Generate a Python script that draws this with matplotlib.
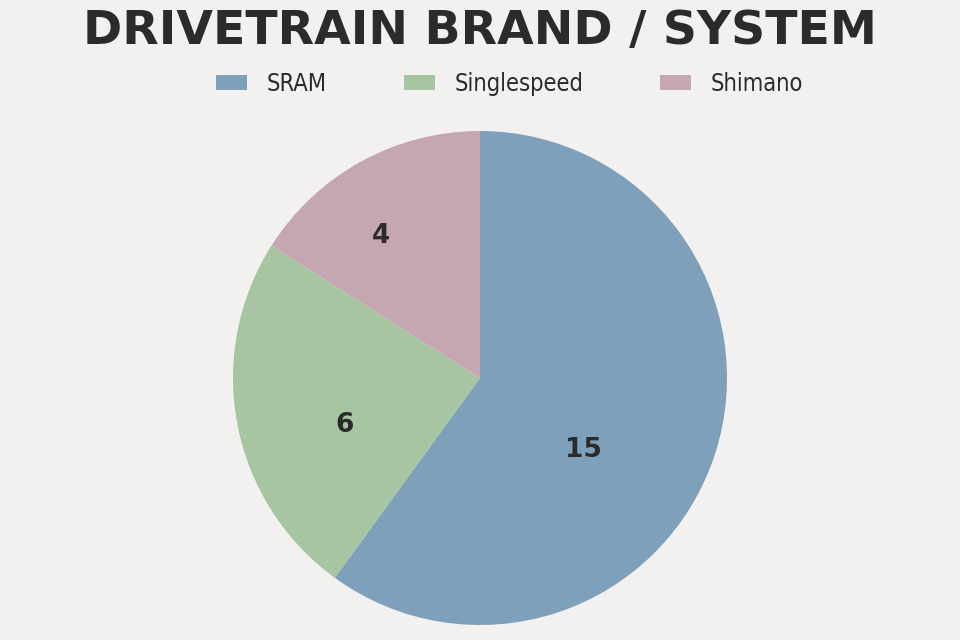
import numpy as np
import matplotlib.pyplot as plt
from matplotlib.patches import Patch

labels = ['SRAM', 'Singlespeed', 'Shimano']
counts = [15, 6, 4]
colors = ['#7fa0bb', '#a7c5a1', '#c5a7b1']
# where the value labels sit: angle (deg) and fraction of radius
label_angle = [-35, 199, 125]
label_rad = [0.51, 0.58, 0.70]

bg = '#f2f1ef'
ink = '#2b2b2b'

fig = plt.figure(figsize=(9.6, 6.4), dpi=100, facecolor=bg)
ax = fig.add_axes([233 / 960, 15 / 640, 494 / 960, 494 / 640])
ax.set_facecolor(bg)
ax.pie(counts, colors=colors, startangle=90, counterclock=False, radius=1,
       wedgeprops=dict(linewidth=0))
ax.set_xlim(-1, 1)
ax.set_ylim(-1, 1)
ax.set_aspect('equal')
ax.axis('off')

for v, a, r in zip(counts, label_angle, label_rad):
    t = np.deg2rad(a)
    ax.text(r * np.cos(t), r * np.sin(t), str(v), ha='center', va='center',
            fontsize=19, fontweight='heavy', color=ink)

fig.text(0.5, 0.95, 'DRIVETRAIN BRAND / SYSTEM', ha='center', va='center',
         fontsize=34, fontweight='bold', color=ink)

handles = [Patch(facecolor=c, edgecolor='none') for c in colors]
fig.legend(handles, labels, loc='center', bbox_to_anchor=(0.531, 0.869), ncol=3,
           frameon=False, handlelength=1.3, handleheight=0.55, handletextpad=0.85,
           columnspacing=3.25,
           prop={'size': 17, 'stretch': 'condensed'}, labelcolor=ink)

fig.savefig('out.png', dpi=100, facecolor=bg)
